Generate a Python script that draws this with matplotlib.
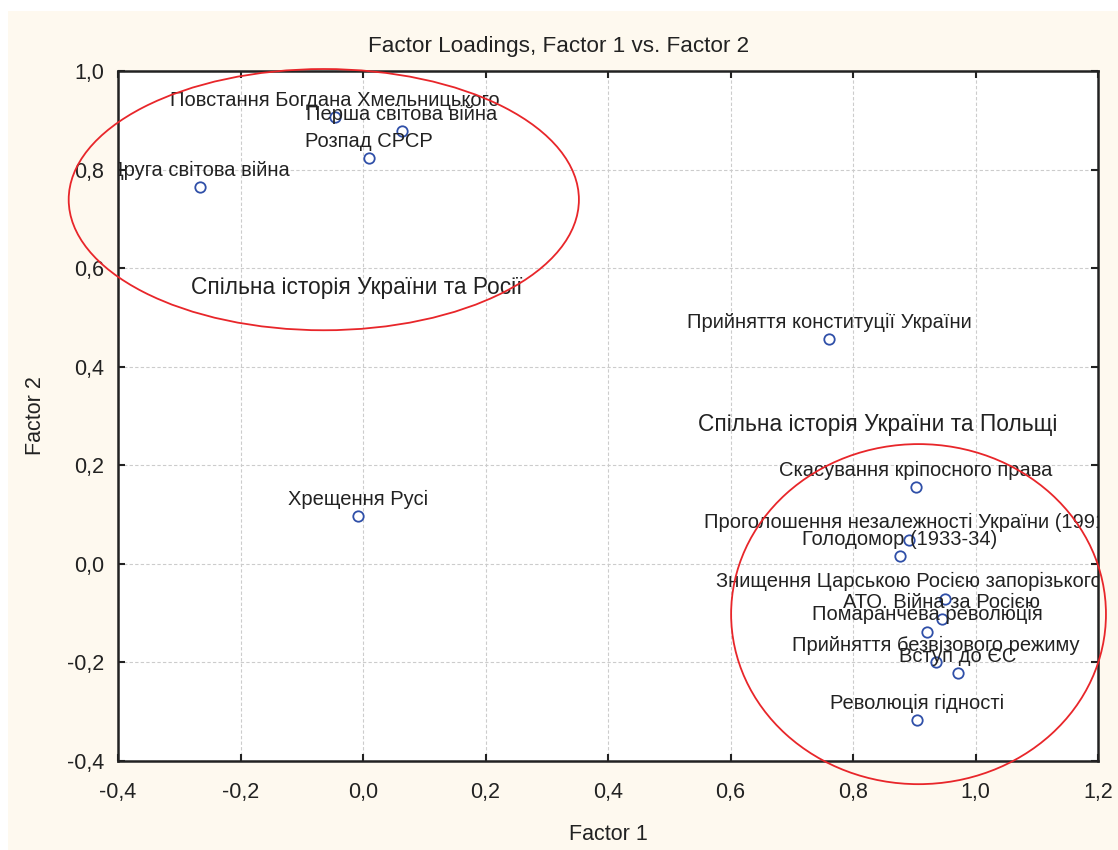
import matplotlib
matplotlib.use("Agg")
import matplotlib.pyplot as plt
from matplotlib.patches import Ellipse, Rectangle
from matplotlib.ticker import FuncFormatter

plt.rcParams['font.family'] = ['Liberation Sans', 'DejaVu Sans']

labels = [
    "Повстання Богдана Хмельницького",
    "Перша світова війна",
    "Розпад СРСР",
    "Друга світова війна",
    "Хрещення Русі",
    "Прийняття конституції України",
    "Скасування кріпосного права",
    "Проголошення незалежності України (1991)",
    "Голодомор (1933-34)",
    "Знищення Царською Росією запорізького війська",
    "АТО. Війна за Росією",
    "Помаранчева революція",
    "Прийняття безвізового режиму",
    "Вступ до ЄС",
    "Революція гідності",
]
factor1 = [-0.046, 0.063, 0.010, -0.266, -0.008, 0.761, 0.903, 0.891, 0.876,
           0.951, 0.945, 0.921, 0.935, 0.971, 0.905]
factor2 = [0.906, 0.878, 0.823, 0.764, 0.097, 0.456, 0.155, 0.049, 0.016,
           -0.071, -0.112, -0.138, -0.200, -0.222, -0.317]

group_names = ["Спільна історія України та Росії", "Спільна історія України та Польщі"]
group_text_xy = [(-0.011, 0.560), (0.840, 0.282)]
group_ellipses = [((-0.064, 0.739), 0.833, 0.530), ((0.907, -0.102), 0.612, 0.690)]

xticks = [-0.4, -0.2, 0.0, 0.2, 0.4, 0.6, 0.8, 1.0, 1.2]
yticks = [-0.4, -0.2, 0.0, 0.2, 0.4, 0.6, 0.8, 1.0]

W, H, DPI = 1118, 850, 100
fig = plt.figure(figsize=(W / DPI, H / DPI), dpi=DPI, facecolor='white')
fig.patches.append(Rectangle((8 / W, 0), 1 - 8 / W, 1 - 11 / H, transform=fig.transFigure,
                             facecolor='#FEF9EF', edgecolor='none', zorder=-10))

ax = fig.add_axes([118 / W, 1 - 761 / H, (1098 - 118) / W, (761 - 71) / H])
ax.set_facecolor('white')
txtc = '#222222'

ax.set_xlim(-0.4, 1.2)
ax.set_ylim(-0.4, 1.0)
ax.set_xticks(xticks)
ax.set_yticks(yticks)
fmt = FuncFormatter(lambda v, p: f"{v:.1f}".replace('.', ',').replace('−', '-'))
ax.xaxis.set_major_formatter(fmt)
ax.yaxis.set_major_formatter(fmt)
ax.tick_params(direction='in', length=5, width=1.5, color=txtc, labelcolor=txtc,
               labelsize=15.5, top=True, right=True)
ax.tick_params(axis='x', pad=15)
ax.tick_params(axis='y', pad=10)
for s in ax.spines.values():
    s.set_linewidth(1.8)
    s.set_color(txtc)
ax.grid(True, color='#cccccc', linestyle=(0, (3, 2)), linewidth=0.8)
ax.set_axisbelow(True)

ax.plot(factor1, factor2, linestyle='none', marker='o', markersize=7.5,
        markerfacecolor='none', markeredgecolor='#2F4FA8', markeredgewidth=1.3, zorder=3)

for lab, x, y in zip(labels, factor1, factor2):
    ax.annotate(lab, (x, y), xytext=(0, 12.2), textcoords='offset points',
                ha='center', va='center', fontsize=14.5, color=txtc,
                annotation_clip=False, clip_on=True, zorder=4)

for name, (tx, ty) in zip(group_names, group_text_xy):
    ax.text(tx, ty, name, ha='center', va='center', fontsize=16.4, color=txtc, zorder=4)

for (c, w, h) in group_ellipses:
    e = Ellipse(c, w, h, facecolor='none', edgecolor='#E8262A', linewidth=1.3,
                clip_on=False, zorder=5)
    ax.add_patch(e)

fig.text(0.5, 1 - 44 / H, "Factor Loadings, Factor 1 vs. Factor 2", fontsize=16.2,
         color=txtc, ha='center', va='center_baseline')
ax.set_xlabel("Factor 1", fontsize=15.5, color=txtc, labelpad=15)
ax.set_ylabel("Factor 2", fontsize=15.5, color=txtc, labelpad=15)

fig.savefig("out.png", dpi=DPI, facecolor=fig.get_facecolor())
